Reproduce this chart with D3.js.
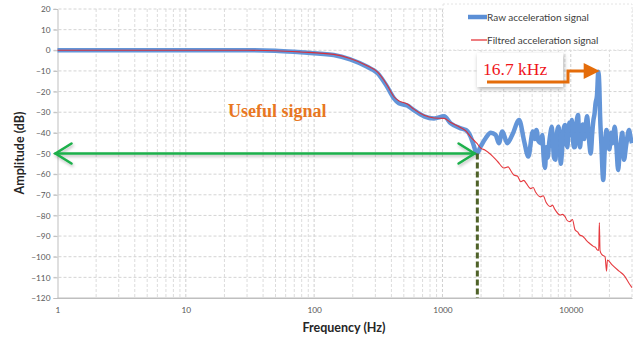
<!DOCTYPE html>
<html><head><meta charset="utf-8">
<script src="https://cdn.jsdelivr.net/npm/d3@7"></script>
<style>body{margin:0;background:#fff}svg{display:block}</style>
</head><body>
<svg id="c" width="633" height="343"></svg>
<script>
const yTicks = [20,10,0,-10,-20,-30,-40,-50,-60,-70,-80,-90,-100,-110,-120];
const xTickLabels = [1,10,100,1000,10000];
const seriesNames = ["Raw acceleration signal","Filtred acceleration signal"];

const rawFreq = [1,10,30,50,78,142,191,259,311,370,419,458,532,598,720,860,1030,1160,1390,1520,1660,1750,1850,1980,2170,2380,2600,2750,2930,3200,3500,3960,4340,4670,5060,5250,5400,5600,5810,6000,6150,6300,6450,6600,6780,6950,7100,7250,7400,7590,7750,7900,8040,8200,8350,8520,8700,8880,9050,9200,9400,9600,9800,10000,10200,10400,10600,10800,11000,11200,11400,11600,11800,12100,12400,12700,13000,13400,13700,14000,14300,14700,15000,15300,15600,16000,16400,16700,16900,17300,17900,18400,19000,19500,20000,20600,21200,22000,22700,23400,24000,24500,25200,26000,27000,28500,29200,30000];
const rawDb   = [0,0,0,-0.2,-1,-2.3,-4.4,-8,-11,-17.6,-23.3,-25.7,-26.8,-29,-32,-33,-32,-35.4,-37.8,-38.6,-41.9,-46,-50,-46.7,-42.6,-40,-41,-45,-39.4,-45,-41,-33.8,-44.3,-51.5,-39.4,-43,-38.6,-44,-45,-41,-52,-57,-47,-52,-45,-40,-37,-44,-52,-53,-42,-38,-37,-45,-55,-50,-41,-37,-36.2,-44,-47,-38.6,-35,-41,-33.8,-43,-47,-46.7,-38,-33,-31.4,-42,-47,-39.4,-36,-43,-38,-32,-38,-46,-50,-40,-34,-31,-25.7,-22,-10.4,-18,-30.7,-45,-62.8,-48,-38.6,-44,-48,-40,-45,-37,-47,-58,-50,-45,-40,-53,-46,-38.6,-42,-45];

const filtFreq = [1,10,30,50,78,142,191,259,311,370,419,458,532,598,720,860,1030,1160,1390,1520,1660,1850,2000,2140,2380,2700,3010,3250,3420,3600,3850,4080,4300,4500,4870,5100,5300,5810,6100,6400,6930,7200,7500,8260,8600,9000,9400,9850,10300,10800,11300,11750,12300,12800,13400,14000,15000,15600,16000,16500,16700,16900,17500,18500,19000,19300,21000,23800,26000,28500,30000];
const filtDb   = [0,0,0,-0.2,-0.8,-2,-4,-7.5,-10.5,-16.8,-22.5,-24.5,-26,-28.5,-31.5,-32.8,-33,-35,-37.5,-39,-42,-45,-47.5,-48.3,-50.5,-54,-57,-56.5,-58.5,-60.4,-61,-63.7,-63,-64.5,-67,-66.5,-68.5,-71,-70.5,-73.5,-75.7,-75,-77,-79.8,-79.5,-80.5,-82.5,-83,-82,-87,-88,-89.5,-90,-91,-92.5,-93.5,-95,-95.5,-96.6,-97,-83.5,-97,-99,-100,-107,-101.6,-104,-107,-109,-113,-115];

const svg = d3.select("#c");
const L = 57.5, R = 632, T = 9, B = 298;
const x = d3.scaleLog().domain([1,30000]).range([L,R]);
const y = d3.scaleLinear().domain([-120,20]).range([B,T]);

const defs = svg.append("defs");
const f = defs.append("filter").attr("id","sh").attr("x","-20%").attr("y","-40%").attr("width","140%").attr("height","180%");
f.append("feDropShadow").attr("dx",1).attr("dy",2).attr("stdDeviation",2).attr("flood-color","#000").attr("flood-opacity",0.3);
const f2 = defs.append("filter").attr("id","sh2").attr("x","-5%").attr("y","-100%").attr("width","110%").attr("height","300%");
f2.append("feDropShadow").attr("dx",1).attr("dy",2).attr("stdDeviation",1.5).attr("flood-color","#000").attr("flood-opacity",0.25);

// minor vertical grid
const minor = [];
for (let d=1; d<=10000; d*=10) for (let k=1;k<10;k++){ const v=d*k; if (v>1 && v<=30000) minor.push(v); }
svg.append("g").selectAll("line").data(minor).join("line")
  .attr("x1",d=>x(d)).attr("x2",d=>x(d)).attr("y1",T).attr("y2",B)
  .attr("stroke",d=>xTickLabels.includes(d)?"#cfcfcf":"#dcdcdc").attr("stroke-width",1).attr("stroke-dasharray","3,2");
// horizontal grid
svg.append("g").selectAll("line").data(yTicks.filter(d=>d>-120)).join("line")
  .attr("x1",L-4).attr("x2",R).attr("y1",d=>y(d)).attr("y2",d=>y(d))
  .attr("stroke","#d4d4d4").attr("stroke-width",1).attr("stroke-dasharray","3,2");

// axes
const ya = d3.axisLeft(y).tickValues(yTicks).tickSize(4).tickPadding(3);
const gy = svg.append("g").attr("transform",`translate(${L},0)`).call(ya);
const xa = d3.axisBottom(x).tickValues(xTickLabels).tickFormat(d3.format("d")).tickSize(0).tickPadding(9);
const gx = svg.append("g").attr("transform",`translate(0,${B})`).call(xa);
[gy,gx].forEach(g=>{
  g.selectAll(".domain").attr("stroke","#bfbfbf");
  g.selectAll(".tick line").attr("stroke","#bfbfbf");
  g.selectAll("text").attr("font-family","Lato, 'Open Sans', sans-serif").attr("font-size",8.3).attr("fill","#595959");
});
svg.append("line").attr("x1",L).attr("x2",R).attr("y1",B).attr("y2",B).attr("stroke","#bfbfbf");

// lines
const line = d3.line().x(d=>x(d[0])).y(d=>y(d[1])).curve(d3.curveMonotoneX);
svg.append("path").datum(rawFreq.map((f,i)=>[f,rawDb[i]]))
  .attr("d",line).attr("fill","none").attr("stroke","#5B8FD6").attr("stroke-width",4.5).attr("stroke-linejoin","round").attr("opacity",0.95);
svg.append("path").datum(filtFreq.map((f,i)=>[f,filtDb[i]]))
  .attr("d",line).attr("fill","none").attr("stroke","#E3262B").attr("stroke-width",1.1).attr("opacity",0.9);

// legend
const lg = svg.append("g");
lg.append("rect").attr("x",443).attr("y",4).attr("width",189).attr("height",46).attr("fill","#fff").attr("stroke","#e4e4e4").attr("stroke-dasharray","2,2");
lg.append("line").attr("x1",468).attr("x2",487).attr("y1",17).attr("y2",17).attr("stroke","#5B8FD6").attr("stroke-width",4.5);
lg.append("line").attr("x1",471).attr("x2",487).attr("y1",40).attr("y2",40).attr("stroke","#E3262B").attr("stroke-width",1.2);
lg.selectAll("text").data(seriesNames).join("text")
  .attr("x",487).attr("y",(d,i)=>i?43.5:20.5).text(d=>d)
  .attr("font-family","Lato, 'Open Sans', sans-serif").attr("font-size",10).attr("fill","#404040");

// axis titles
svg.append("text").attr("x",344).attr("y",332).attr("text-anchor","middle").text("Frequency (Hz)")
  .attr("font-family","Lato, 'Open Sans', sans-serif").attr("font-weight","bold").attr("font-size",12.5).attr("fill","#262626");
svg.append("text").attr("transform","translate(24,153) rotate(-90)").attr("text-anchor","middle").text("Amplitude (dB)")
  .attr("font-family","Lato, 'Open Sans', sans-serif").attr("font-weight","bold").attr("font-size",12.5).attr("fill","#262626");

// useful signal annotation
svg.append("text").attr("x",228).attr("y",117).text("Useful signal")
  .attr("font-family","'Liberation Serif', serif").attr("font-weight","bold").attr("font-size",18).attr("fill","#E87722");

// green double arrow at -50 dB
const ay = y(-50), ax1 = x(1)-2, ax2 = x(1780);
const ga = svg.append("g").attr("filter","url(#sh2)").attr("stroke","#1DB04B").attr("stroke-width",2.6).attr("fill","none").attr("stroke-linecap","round");
ga.append("line").attr("x1",ax1).attr("x2",ax2).attr("y1",ay).attr("y2",ay);
ga.append("path").attr("d",`M${ax1+16},${ay-10} L${ax1},${ay} L${ax1+16},${ay+10}`);
ga.append("path").attr("d",`M${ax2-16},${ay-10} L${ax2},${ay} L${ax2-16},${ay+10}`);

// dashed vertical at ~1870 Hz
svg.append("line").attr("x1",x(1870)).attr("x2",x(1870)).attr("y1",ay).attr("y2",B)
  .attr("stroke","#4F6228").attr("stroke-width",3).attr("stroke-dasharray","6,3");

// 16.7 kHz box + arrow
svg.append("rect").attr("x",477).attr("y",53).attr("width",86).attr("height",34).attr("fill","#fff").attr("filter","url(#sh)");
svg.append("text").attr("x",483).attr("y",75).text("16.7 kHz")
  .attr("font-family","'Liberation Serif', serif").attr("font-size",17.5).attr("fill","#F0151B");
const sx = x(16500);
svg.append("path").attr("d",`M487,82 H568 V71 H${sx-14}`).attr("fill","none").attr("stroke","#E46C0A").attr("stroke-width",3);
svg.append("path").attr("d",`M${sx-15},63 L${sx+1},71 L${sx-15},79 Z`).attr("fill","#E46C0A");
</script>
</body></html>
